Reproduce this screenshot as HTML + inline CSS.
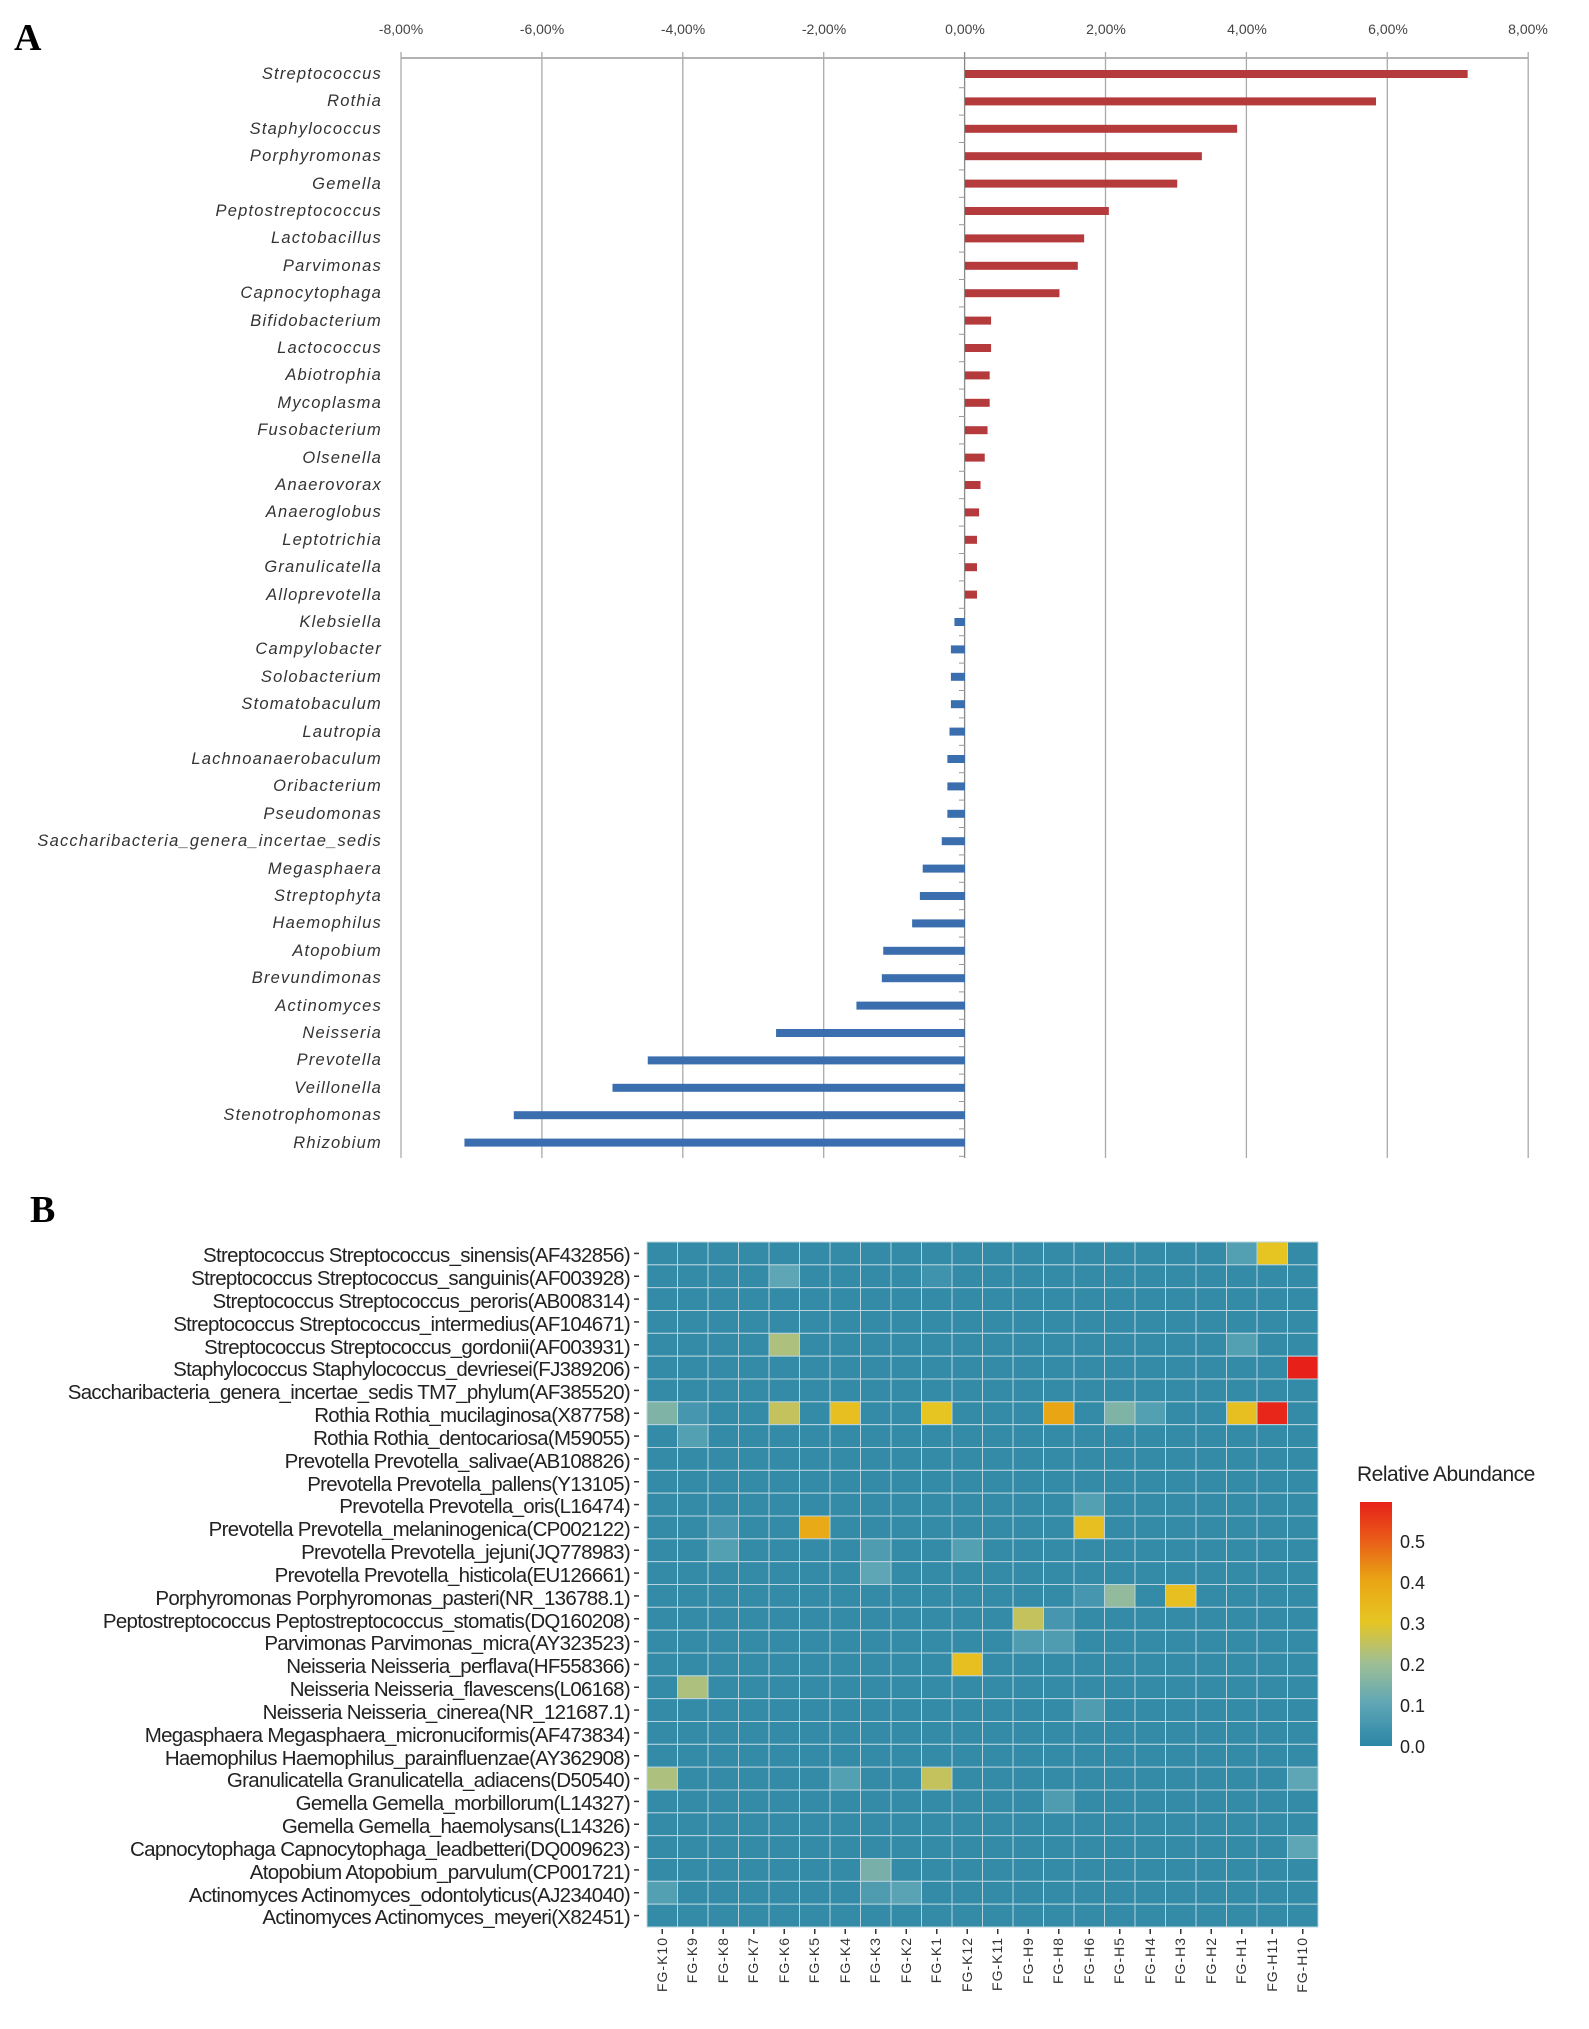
<!DOCTYPE html>
<html><head><meta charset="utf-8"><style>
body{margin:0;background:#fff;width:1589px;height:2029px;overflow:hidden}
svg{display:block}
.l{font-family:"Liberation Sans",sans-serif;font-style:italic;font-size:16.5px;fill:#333;text-anchor:end;letter-spacing:1.2px}
.t{font-family:"Liberation Sans",sans-serif;font-size:14px;fill:#444;text-anchor:middle}
.r{font-family:"Liberation Sans",sans-serif;font-size:20.5px;fill:#222;text-anchor:end;letter-spacing:-0.7px}
.c{font-family:"Liberation Sans",sans-serif;font-size:14px;fill:#333;text-anchor:end;letter-spacing:1px}
.h{font-family:"Liberation Serif",serif;font-weight:bold;font-size:38px;fill:#000}
</style></head><body>
<svg id="s" width="1589" height="2029" xmlns="http://www.w3.org/2000/svg">
<text class="h" x="14" y="50">A</text>
<text class="h" x="30" y="1222">B</text>
<g id="grid"></g>
<g class="t">
<text x="401" y="34">-8,00%</text><text x="542" y="34">-6,00%</text><text x="683" y="34">-4,00%</text><text x="824" y="34">-2,00%</text><text x="965" y="34">0,00%</text><text x="1106" y="34">2,00%</text><text x="1247" y="34">4,00%</text><text x="1388" y="34">6,00%</text><text x="1528" y="34">8,00%</text>
</g>
<g id="labsA" class="l">
<text x="382" y="79">Streptococcus</text>
<text x="382" y="106">Rothia</text>
<text x="382" y="134">Staphylococcus</text>
<text x="382" y="161">Porphyromonas</text>
<text x="382" y="189">Gemella</text>
<text x="382" y="216">Peptostreptococcus</text>
<text x="382" y="243">Lactobacillus</text>
<text x="382" y="271">Parvimonas</text>
<text x="382" y="298">Capnocytophaga</text>
<text x="382" y="326">Bifidobacterium</text>
<text x="382" y="353">Lactococcus</text>
<text x="382" y="380">Abiotrophia</text>
<text x="382" y="408">Mycoplasma</text>
<text x="382" y="435">Fusobacterium</text>
<text x="382" y="463">Olsenella</text>
<text x="382" y="490">Anaerovorax</text>
<text x="382" y="517">Anaeroglobus</text>
<text x="382" y="545">Leptotrichia</text>
<text x="382" y="572">Granulicatella</text>
<text x="382" y="600">Alloprevotella</text>
<text x="382" y="627">Klebsiella</text>
<text x="382" y="654">Campylobacter</text>
<text x="382" y="682">Solobacterium</text>
<text x="382" y="709">Stomatobaculum</text>
<text x="382" y="737">Lautropia</text>
<text x="382" y="764">Lachnoanaerobaculum</text>
<text x="382" y="791">Oribacterium</text>
<text x="382" y="819">Pseudomonas</text>
<text x="382" y="846">Saccharibacteria_genera_incertae_sedis</text>
<text x="382" y="874">Megasphaera</text>
<text x="382" y="901">Streptophyta</text>
<text x="382" y="928">Haemophilus</text>
<text x="382" y="956">Atopobium</text>
<text x="382" y="983">Brevundimonas</text>
<text x="382" y="1011">Actinomyces</text>
<text x="382" y="1038">Neisseria</text>
<text x="382" y="1065">Prevotella</text>
<text x="382" y="1093">Veillonella</text>
<text x="382" y="1120">Stenotrophomonas</text>
<text x="382" y="1148">Rhizobium</text>
</g>
<g id="bars"></g>
<g id="heat"></g>
<g class="r" id="rl">
<text x="630" y="1262">Streptococcus Streptococcus_sinensis(AF432856)</text>
<text x="630" y="1285">Streptococcus Streptococcus_sanguinis(AF003928)</text>
<text x="630" y="1308">Streptococcus Streptococcus_peroris(AB008314)</text>
<text x="630" y="1331">Streptococcus Streptococcus_intermedius(AF104671)</text>
<text x="630" y="1354">Streptococcus Streptococcus_gordonii(AF003931)</text>
<text x="630" y="1376">Staphylococcus Staphylococcus_devriesei(FJ389206)</text>
<text x="630" y="1399">Saccharibacteria_genera_incertae_sedis TM7_phylum(AF385520)</text>
<text x="630" y="1422">Rothia Rothia_mucilaginosa(X87758)</text>
<text x="630" y="1445">Rothia Rothia_dentocariosa(M59055)</text>
<text x="630" y="1468">Prevotella Prevotella_salivae(AB108826)</text>
<text x="630" y="1491">Prevotella Prevotella_pallens(Y13105)</text>
<text x="630" y="1513">Prevotella Prevotella_oris(L16474)</text>
<text x="630" y="1536">Prevotella Prevotella_melaninogenica(CP002122)</text>
<text x="630" y="1559">Prevotella Prevotella_jejuni(JQ778983)</text>
<text x="630" y="1582">Prevotella Prevotella_histicola(EU126661)</text>
<text x="630" y="1605">Porphyromonas Porphyromonas_pasteri(NR_136788.1)</text>
<text x="630" y="1628">Peptostreptococcus Peptostreptococcus_stomatis(DQ160208)</text>
<text x="630" y="1650">Parvimonas Parvimonas_micra(AY323523)</text>
<text x="630" y="1673">Neisseria Neisseria_perflava(HF558366)</text>
<text x="630" y="1696">Neisseria Neisseria_flavescens(L06168)</text>
<text x="630" y="1719">Neisseria Neisseria_cinerea(NR_121687.1)</text>
<text x="630" y="1742">Megasphaera Megasphaera_micronuciformis(AF473834)</text>
<text x="630" y="1765">Haemophilus Haemophilus_parainfluenzae(AY362908)</text>
<text x="630" y="1787">Granulicatella Granulicatella_adiacens(D50540)</text>
<text x="630" y="1810">Gemella Gemella_morbillorum(L14327)</text>
<text x="630" y="1833">Gemella Gemella_haemolysans(L14326)</text>
<text x="630" y="1856">Capnocytophaga Capnocytophaga_leadbetteri(DQ009623)</text>
<text x="630" y="1879">Atopobium Atopobium_parvulum(CP001721)</text>
<text x="630" y="1902">Actinomyces Actinomyces_odontolyticus(AJ234040)</text>
<text x="630" y="1924">Actinomyces Actinomyces_meyeri(X82451)</text>
</g>
<g class="c">
<text transform="translate(667,1937) rotate(-90)">FG-K10</text>
<text transform="translate(697,1937) rotate(-90)">FG-K9</text>
<text transform="translate(728,1937) rotate(-90)">FG-K8</text>
<text transform="translate(758,1937) rotate(-90)">FG-K7</text>
<text transform="translate(789,1937) rotate(-90)">FG-K6</text>
<text transform="translate(819,1937) rotate(-90)">FG-K5</text>
<text transform="translate(850,1937) rotate(-90)">FG-K4</text>
<text transform="translate(880,1937) rotate(-90)">FG-K3</text>
<text transform="translate(911,1937) rotate(-90)">FG-K2</text>
<text transform="translate(941,1937) rotate(-90)">FG-K1</text>
<text transform="translate(972,1937) rotate(-90)">FG-K12</text>
<text transform="translate(1002,1937) rotate(-90)">FG-K11</text>
<text transform="translate(1033,1937) rotate(-90)">FG-H9</text>
<text transform="translate(1063,1937) rotate(-90)">FG-H8</text>
<text transform="translate(1094,1937) rotate(-90)">FG-H6</text>
<text transform="translate(1124,1937) rotate(-90)">FG-H5</text>
<text transform="translate(1155,1937) rotate(-90)">FG-H4</text>
<text transform="translate(1185,1937) rotate(-90)">FG-H3</text>
<text transform="translate(1216,1937) rotate(-90)">FG-H2</text>
<text transform="translate(1246,1937) rotate(-90)">FG-H1</text>
<text transform="translate(1277,1937) rotate(-90)">FG-H11</text>
<text transform="translate(1307,1937) rotate(-90)">FG-H10</text>
</g>
<defs><linearGradient id="g" x1="0" y1="1" x2="0" y2="0">
<stop offset="0" stop-color="#2b86a6"/><stop offset="0.17" stop-color="#5ea6b6"/><stop offset="0.34" stop-color="#9fbf95"/><stop offset="0.51" stop-color="#e6c523"/><stop offset="0.68" stop-color="#e9a514"/><stop offset="0.85" stop-color="#e95a18"/><stop offset="1" stop-color="#e8201a"/>
</linearGradient></defs>
<text x="1357" y="1481" style="font-family:'Liberation Sans',sans-serif;font-size:21px;fill:#222;letter-spacing:-0.5px">Relative Abundance</text>
<rect x="1360" y="1502" width="32" height="244" fill="url(#g)"/>
<g style="font-family:'Liberation Sans',sans-serif;font-size:18px;fill:#222">
<text x="1400" y="1548">0.5</text><text x="1400" y="1589">0.4</text><text x="1400" y="1630">0.3</text><text x="1400" y="1671">0.2</text><text x="1400" y="1712">0.1</text><text x="1400" y="1753">0.0</text>
</g>
</svg>
<script>
var NS="http://www.w3.org/2000/svg";
function el(p,t,a){var e=document.createElementNS(NS,t);for(var k in a)e.setAttribute(k,a[k]);p.appendChild(e);return e;}
var g=document.getElementById('grid');
el(g,'line',{x1:401,y1:58,x2:1528,y2:58,stroke:'#999','stroke-width':1.5});
for(var i=0;i<9;i++){var x=401+i*140.9;el(g,'line',{x1:x,y1:52,x2:x,y2:1158,stroke:i==4?'#888':'#aaa','stroke-width':1.3});}
var vals=[7.13,5.83,3.86,3.36,3.01,2.04,1.69,1.6,1.34,0.37,0.37,0.35,0.35,0.32,0.28,0.22,0.2,0.17,0.17,0.17,-0.15,-0.2,-0.2,-0.2,-0.22,-0.25,-0.25,-0.25,-0.33,-0.6,-0.64,-0.75,-1.16,-1.18,-1.54,-2.68,-4.5,-5.0,-6.4,-7.1];
var b=document.getElementById('bars');
for(var i=0;i<40;i++){var y=74+i*27.4,v=vals[i],w=Math.abs(v)*70.5;
el(b,'rect',{x:v>0?965:965-w,y:y-4,width:w,height:8,fill:v>0?'#b53a3c':'#3a6eae'});
el(b,'line',{x1:959,y1:y+13.7,x2:965,y2:y+13.7,stroke:'#999'});}
var h=document.getElementById('heat');
var X0=647,Y0=1242,CW=671/22,RH=685/30;
function col(v){var s=[[0,[43,134,166]],[0.1,[94,166,182]],[0.2,[159,191,149]],[0.3,[230,197,35]],[0.4,[233,165,20]],[0.5,[233,90,24]],[0.59,[232,32,26]]];
for(var i=1;i<s.length;i++)if(v<=s[i][0]){var t=(v-s[i-1][0])/(s[i][0]-s[i-1][0]),a=s[i-1][1],c=s[i][1];return 'rgb('+a.map(function(q,j){return Math.round(q+(c[j]-q)*t)}).join(',')+')';}return 'rgb(232,32,26)';}
var hi={"0,20":0.3,"0,19":0.08,"1,4":0.1,"1,9":0.04,"4,4":0.22,"4,19":0.08,"5,21":0.6,"7,0":0.15,"7,1":0.05,"7,4":0.25,"7,6":0.32,"7,9":0.3,"7,13":0.4,"7,15":0.15,"7,16":0.08,"7,19":0.32,"7,20":0.58,"8,1":0.08,"11,14":0.08,"12,5":0.38,"12,14":0.32,"12,2":0.05,"13,2":0.08,"13,7":0.07,"13,10":0.08,"14,7":0.1,"15,15":0.18,"15,17":0.32,"15,14":0.05,"16,12":0.25,"16,13":0.05,"17,12":0.07,"17,13":0.07,"18,10":0.32,"19,1":0.22,"20,14":0.07,"23,0":0.22,"23,9":0.25,"23,6":0.08,"23,21":0.1,"24,13":0.07,"26,21":0.1,"27,7":0.14,"28,0":0.08,"28,7":0.07,"28,8":0.09};
for(var r=0;r<30;r++)for(var c=0;c<22;c++){var v=hi[r+','+c]||0.015;
el(h,'rect',{x:X0+c*CW,y:Y0+r*RH,width:CW,height:RH,fill:col(v),stroke:'#b8d4de','stroke-width':1});}
for(var r=0;r<30;r++)el(h,'line',{x1:634,y1:Y0+(r+0.5)*RH,x2:639,y2:Y0+(r+0.5)*RH,stroke:'#333','stroke-width':1.5});
for(var c=0;c<22;c++)el(h,'line',{x1:X0+(c+0.5)*CW,y1:1929,x2:X0+(c+0.5)*CW,y2:1934,stroke:'#333','stroke-width':1.5});
</script>
</body></html>
